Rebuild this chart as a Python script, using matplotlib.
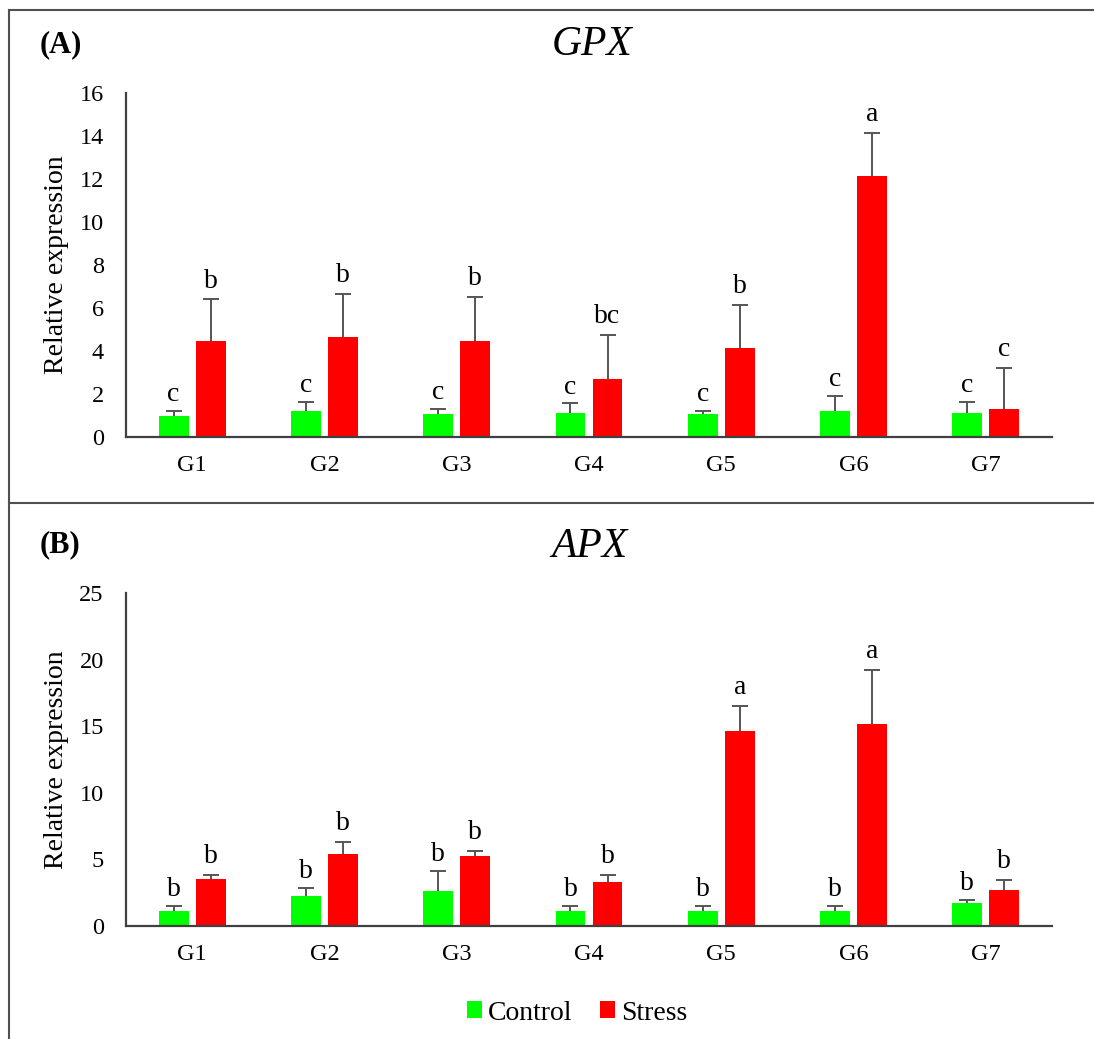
import matplotlib
matplotlib.use("Agg")
import matplotlib.pyplot as plt
from matplotlib.patches import Patch
from matplotlib.lines import Line2D
import numpy as np

plt.rcParams['font.family'] = ['Liberation Serif', 'DejaVu Serif']

groups = ["G1", "G2", "G3", "G4", "G5", "G6", "G7"]

gpx_control = [0.98, 1.22, 1.05, 1.13, 1.05, 1.22, 1.13]
gpx_control_err = [0.22, 0.42, 0.25, 0.44, 0.16, 0.69, 0.51]
gpx_stress = [4.48, 4.67, 4.48, 2.71, 4.12, 12.15, 1.32]
gpx_stress_err = [1.92, 1.98, 2.02, 2.02, 2.02, 2.0, 1.9]
gpx_control_letters = ["c", "c", "c", "c", "c", "c", "c"]
gpx_stress_letters = ["b", "b", "b", "bc", "b", "a", "c"]

apx_control = [1.15, 2.25, 2.65, 1.15, 1.15, 1.15, 1.70]
apx_control_err = [0.35, 0.63, 1.5, 0.35, 0.35, 0.35, 0.25]
apx_stress = [3.5, 5.4, 5.25, 3.33, 14.65, 15.2, 2.7]
apx_stress_err = [0.33, 0.93, 0.38, 0.5, 1.85, 4.05, 0.75]
apx_control_letters = ["b", "b", "b", "b", "b", "b", "b"]
apx_stress_letters = ["b", "b", "b", "b", "a", "a", "b"]

W, H = 1094, 1039
fig = plt.figure(figsize=(W / 100, H / 100), dpi=100)

GREEN = "#00FF00"
RED = "#FF0000"
AXC = "#404040"
ERRC = "#555555"


def px_axes(left, top, right, bottom):
    return fig.add_axes([left / W, 1 - bottom / H, (right - left) / W, (bottom - top) / H])


def upper_err(ax, xs, vals, errs):
    _, caps, _ = ax.errorbar(xs, vals, yerr=[np.zeros(len(vals)), errs], fmt="none",
                             ecolor=ERRC, elinewidth=1.4, capsize=5.5, capthick=1.4, zorder=3)
    if len(caps) == 2:
        caps[0].set_visible(False)


def panel(ax, ctrl, ctrl_err, strs, strs_err, cl, sl, ymax, ystep):
    x = np.arange(len(groups))
    w = 0.225
    off = 0.14
    ax.bar(x - off, ctrl, w, color=GREEN, zorder=2)
    ax.bar(x + off, strs, w, color=RED, zorder=2)
    upper_err(ax, x - off, ctrl, ctrl_err)
    upper_err(ax, x + off, strs, strs_err)
    for i in range(len(groups)):
        ax.annotate(cl[i], (x[i] - off, ctrl[i] + ctrl_err[i]), xytext=(0, 7),
                    textcoords="offset points", ha="center", va="baseline", fontsize=20)
        ax.annotate(sl[i], (x[i] + off, strs[i] + strs_err[i]), xytext=(0, 8.5),
                    textcoords="offset points", ha="center", va="baseline", fontsize=20)
    ax.set_xlim(-0.5, len(groups) - 0.5)
    ax.set_ylim(0, ymax)
    ax.set_yticks(np.arange(0, ymax + 0.1, ystep))
    ax.set_xticks(x)
    ax.set_xticklabels(groups)
    for s in ["top", "right"]:
        ax.spines[s].set_visible(False)
    for s in ["left", "bottom"]:
        ax.spines[s].set_color(AXC)
        ax.spines[s].set_linewidth(1.6)
    ax.tick_params(axis="both", length=0, labelsize=17.5)
    ax.tick_params(axis="y", pad=16)
    ax.tick_params(axis="x", pad=13)
    ax.set_ylabel("Relative expression", fontsize=20)
    ax.yaxis.set_label_coords(-0.062, 0.5)


ax1 = px_axes(126, 93, 1052, 437)
panel(ax1, gpx_control, gpx_control_err, gpx_stress, gpx_stress_err,
      gpx_control_letters, gpx_stress_letters, 16, 2)

ax2 = px_axes(126, 593, 1052, 926)
panel(ax2, apx_control, apx_control_err, apx_stress, apx_stress_err,
      apx_control_letters, apx_stress_letters, 25, 5)

fig.text(40 / W, 1 - 45 / H, "(A)", fontsize=22, fontweight="bold", ha="left", va="center")
fig.text(592 / W, 1 - 45 / H, "GPX", fontsize=30, fontstyle="italic", ha="center", va="center")
fig.text(40 / W, 1 - 545 / H, "(B)", fontsize=22, fontweight="bold", ha="left", va="center")
fig.text(589 / W, 1 - 547 / H, "APX", fontsize=30, fontstyle="italic", ha="center", va="center")

# frame lines
lc = "#505050"
fig.add_artist(Line2D([9 / W, 9 / W], [0, 1 - 10 / H], color=lc, lw=1.5, transform=fig.transFigure))
fig.add_artist(Line2D([9 / W, 1], [1 - 10 / H, 1 - 10 / H], color=lc, lw=1.5, transform=fig.transFigure))
fig.add_artist(Line2D([9 / W, 1], [1 - 503 / H, 1 - 503 / H], color=lc, lw=1.5, transform=fig.transFigure))

handles = [Patch(facecolor=GREEN, label="Control"), Patch(facecolor=RED, label="Stress")]
fig.legend(handles=handles, ncol=2, loc="center", bbox_to_anchor=(577 / W, 1 - 1013 / H),
           frameon=False, fontsize=20, handlelength=0.55, handleheight=0.55,
           handletextpad=0.2, columnspacing=1.0)

fig.savefig("out.png", dpi=100)
